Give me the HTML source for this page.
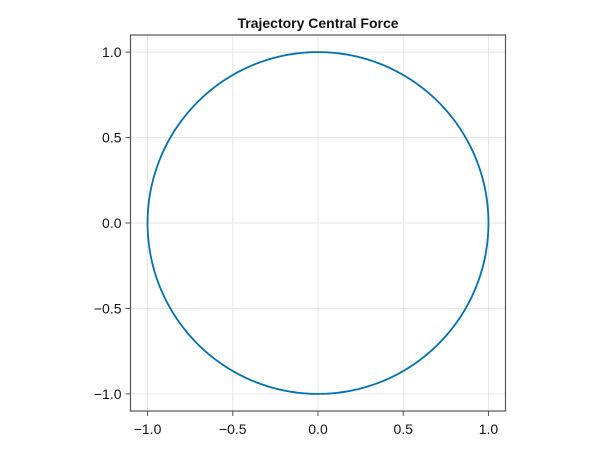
<!DOCTYPE html>
<html><head><meta charset="utf-8"><style>
body{margin:0;background:#fff;}
svg{display:block;font-family:"Liberation Sans",sans-serif;}
</style></head><body>
<svg id="c" width="600" height="450"></svg>
<script>
const xTicks=[-1.0,-0.5,0.0,0.5,1.0];
const yTicks=[-1.0,-0.5,0.0,0.5,1.0];
const tickLabels=["−1.0","−0.5","0.0","0.5","1.0"];
const radius=[1.0];
const nPoints=[400];
const L=130.5,R=505.5,T=35,B=411,x0=-1.1,x1=1.1,y0=-1.1,y1=1.1;
const sx=v=>L+(v-x0)/(x1-x0)*(R-L);
const sy=v=>B-(v-y0)/(y1-y0)*(B-T);
const svg=document.getElementById('c');
const NS='http://www.w3.org/2000/svg';
function mk(t,a,p){const e=document.createElementNS(NS,t);for(const k in a)e.setAttribute(k,a[k]);(p||svg).appendChild(e);return e;}
xTicks.forEach((v,i)=>{
 const g=mk('line',{x1:sx(v),x2:sx(v),y1:T,y2:B,stroke:'#e6e6e6','stroke-width':1});
 
 
 const tk=mk('line',{x1:sx(v),x2:sx(v),y1:B,y2:B+5,stroke:'#555','stroke-width':1});
 
 
 const t=mk('text',{x:sx(v),y:B+23,'text-anchor':'middle','font-size':14,fill:'#111'});
 t.textContent=tickLabels[i];
 
 
});
yTicks.forEach((v,i)=>{
 const g=mk('line',{x1:L,x2:R,y1:sy(v),y2:sy(v),stroke:'#e6e6e6','stroke-width':1});
 
 
 const tk=mk('line',{x1:L-5,x2:L,y1:sy(v),y2:sy(v),stroke:'#555','stroke-width':1});
 
 
 const t=mk('text',{x:L-9,y:sy(v)+5,'text-anchor':'end','font-size':14,fill:'#111'});
 t.textContent=tickLabels[i];
 
 
});
let d='';
for(let i=0;i<=nPoints[0];i++){const a=2*Math.PI*i/nPoints[0];d+=(i?'L':'M')+sx(radius[0]*Math.cos(a)).toFixed(2)+' '+sy(radius[0]*Math.sin(a)).toFixed(2);}
const p=mk('path',{d:d,fill:'none',stroke:'#0072b2','stroke-width':1.8});


const f=mk('rect',{x:L,y:T,width:R-L,height:B-T,fill:'none',stroke:'#555','stroke-width':1.2});


const ti=mk('text',{x:(L+R)/2,y:28,'text-anchor':'middle','font-size':14,'font-weight':'bold',fill:'#111'});
ti.textContent='Trajectory Central Force';


</script>
</body></html>
